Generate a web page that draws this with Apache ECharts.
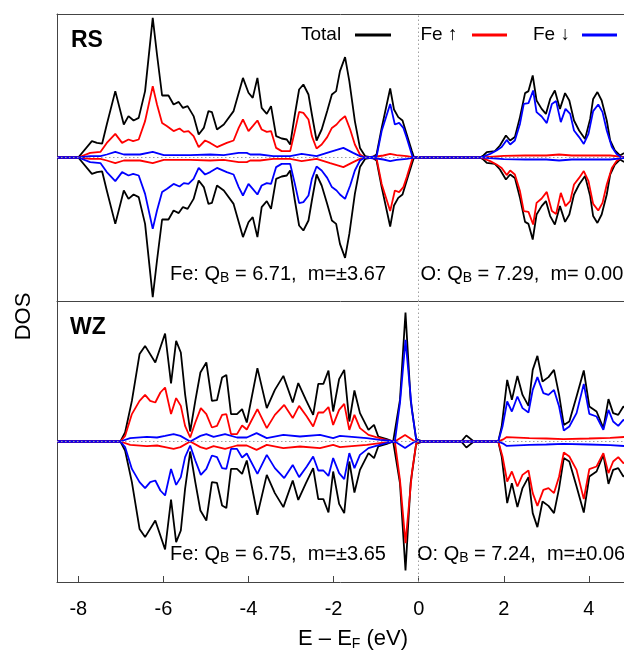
<!DOCTYPE html>
<html>
<head>
<meta charset="utf-8">
<title>Fe–O DOS, RS and WZ</title>
<script src="https://cdn.jsdelivr.net/npm/echarts@6/dist/echarts.min.js"></script>
<style>
  html, body { margin: 0; padding: 0; background: #fff; }
  #chart { width: 624px; height: 651px; }
</style>
</head>
<body>
<div id="chart"></div>
<script>
// Energy axis ticks (eV, relative to the Fermi level)
const energyTicks = [-8, -6, -4, -2, 0, 2, 4];

// ---- Rock-salt (RS) phase: spin-up channel, [E - EF (eV), DOS] ----
// Total DOS (the antiferromagnetic cell is spin-symmetric, spin-down = -spin-up)
const rsTotal = [
  [-8.5,0],[-8.0,0],[-7.68,0.82],[-7.56,0.73],[-7.44,0.69],[-7.33,1.65],[-7.13,3.32],[-6.93,1.65],
  [-6.82,2.07],[-6.70,1.85],[-6.58,1.98],[-6.43,3.32],[-6.25,6.98],[-6.15,5.15],[-6.03,3.10],[-5.88,3.10],
  [-5.76,2.65],[-5.64,2.78],[-5.54,2.48],[-5.43,2.57],[-5.29,2.07],[-5.17,1.15],[-5.05,1.48],[-4.94,2.32],
  [-4.86,2.27],[-4.74,1.40],[-4.58,1.65],[-4.35,2.32],[-4.13,3.98],[-4.00,3.24],[-3.90,2.98],[-3.79,3.98],
  [-3.69,2.48],[-3.57,2.18],[-3.47,2.57],[-3.35,1.07],[-3.22,0.95],[-3.10,0.90],[-3.02,0.65],[-2.91,2.15],
  [-2.81,3.40],[-2.71,3.65],[-2.59,3.15],[-2.51,2.15],[-2.40,0.85],[-2.28,1.40],[-2.15,2.32],[-2.04,3.15],
  [-1.94,3.32],[-1.85,4.32],[-1.73,5.02],[-1.63,3.82],[-1.50,1.82],[-1.38,0.48],[-1.26,0.07],[-1.10,0],
  [-0.99,0.15],[-0.87,1.48],[-0.67,3.45],[-0.58,2.40],[-0.48,2.02],[-0.38,1.85],[-0.28,1.15],[-0.16,0.32],
  [-0.11,0],[1.44,0],[1.52,0.10],[1.60,0.27],[1.79,0.32],[1.91,0.60],[2.05,1.10],[2.15,0.85],[2.26,1.02],
  [2.38,2.02],[2.50,3.22],[2.58,3.32],[2.68,4.10],[2.77,2.85],[2.89,2.43],[2.99,2.18],[3.09,2.93],[3.20,3.35],
  [3.32,2.43],[3.44,3.22],[3.54,2.85],[3.65,1.85],[3.77,1.35],[3.91,0.93],[4.03,1.93],[4.10,2.93],[4.20,3.27],
  [4.30,2.85],[4.42,1.85],[4.50,0.85],[4.61,0.35],[4.73,0.10],[4.81,0.20],[5.0,0.40]
];
// Fe majority-spin projection (Fe↑ spin-up, equal to Fe↓ spin-down)
const rsFeMajority = [
  [-8.5,0],[-8.0,0],[-7.72,0.23],[-7.48,0.28],[-7.33,0.73],[-7.13,1.18],[-6.97,0.73],[-6.82,0.90],
  [-6.71,0.82],[-6.58,0.90],[-6.43,1.82],[-6.25,3.57],[-6.15,2.65],[-6.03,1.73],[-5.92,1.57],[-5.76,1.32],
  [-5.62,1.45],[-5.52,1.28],[-5.41,1.32],[-5.29,1.07],[-5.17,0.52],[-5.02,0.85],[-4.90,0.73],[-4.74,0.52],
  [-4.51,0.73],[-4.35,0.85],[-4.23,1.48],[-4.13,1.90],[-4.00,1.32],[-3.90,1.57],[-3.79,1.85],[-3.69,1.40],
  [-3.57,1.28],[-3.47,1.32],[-3.35,0.48],[-3.22,0.32],[-3.02,0.32],[-2.91,1.32],[-2.81,2.28],[-2.71,2.23],
  [-2.59,1.90],[-2.51,1.07],[-2.40,0.45],[-2.28,0.65],[-2.15,1.02],[-2.04,1.48],[-1.93,1.65],[-1.85,1.85],
  [-1.73,2.07],[-1.61,1.40],[-1.50,0.65],[-1.38,0.15],[-1.26,0],[-0.99,0.05],[-0.83,0.10],[-0.67,0.18],
  [-0.52,0.12],[-0.28,0.07],[-0.11,0],[1.50,0],[2.0,0.08],[2.5,0.10],[3.0,0.10],[3.3,0.15],[3.6,0.10],
  [4.0,0.10],[4.5,0.10],[4.8,0.03],[5.0,0.05]
];
// Fe minority-spin projection (Fe↓ spin-up, equal to Fe↑ spin-down)
const rsFeMinority = [
  [-8.5,0],[-8.0,0],[-7.72,0.07],[-7.48,0.07],[-7.33,0.15],[-7.13,0.28],[-6.93,0.15],[-6.55,0.15],
  [-6.25,0.28],[-5.99,0.12],[-5.37,0.12],[-4.90,0.15],[-4.58,0.12],[-4.23,0.23],[-4.04,0.23],[-3.96,0.15],
  [-3.73,0.15],[-3.42,0.07],[-3.02,0.07],[-2.75,0.18],[-2.40,0.07],[-2.08,0.28],[-1.77,0.48],[-1.54,0.23],
  [-1.38,0.07],[-1.26,0],[-0.99,0.05],[-0.87,1.32],[-0.67,2.68],[-0.56,1.65],[-0.46,1.73],[-0.36,1.48],
  [-0.28,0.98],[-0.14,0],[1.44,0],[1.52,0.05],[1.68,0.18],[1.83,0.35],[1.95,0.52],[2.07,0.88],[2.15,0.65],
  [2.26,0.85],[2.38,1.68],[2.47,2.68],[2.58,2.72],[2.69,3.35],[2.77,2.27],[2.89,2.05],[3.01,1.72],[3.13,2.68],
  [3.23,2.82],[3.34,1.77],[3.45,2.43],[3.56,2.18],[3.65,1.35],[3.77,1.02],[3.88,0.68],[3.99,1.18],[4.10,2.32],
  [4.22,2.65],[4.32,2.27],[4.42,1.35],[4.54,0.52],[4.65,0.18],[4.77,0],[5.0,0]
];

// ---- Wurtzite (WZ) phase ----
const wzTotal = [
  [-8.5,0],[-7.01,0],[-6.90,0.45],[-6.74,2.03],[-6.56,4.37],[-6.43,4.78],[-6.19,3.95],[-5.96,5.40],
  [-5.82,2.90],[-5.70,5.03],[-5.59,4.45],[-5.49,2.37],[-5.37,0.50],[-5.25,2.03],[-5.13,3.45],[-4.99,3.95],
  [-4.86,2.03],[-4.74,2.07],[-4.62,3.20],[-4.52,3.33],[-4.41,1.37],[-4.27,1.37],[-4.15,1.62],[-4.04,0.95],
  [-3.79,3.67],[-3.57,1.67],[-3.38,2.58],[-3.18,3.28],[-2.96,1.95],[-2.83,2.92],[-2.65,2.08],[-2.48,1.33],
  [-2.36,2.88],[-2.24,2.88],[-2.12,3.55],[-2.01,1.50],[-1.87,3.12],[-1.75,3.58],[-1.63,1.00],[-1.51,2.55],
  [-1.38,1.42],[-1.18,0.58],[-1.05,0.83],[-0.95,0.25],[-0.75,0.12],[-0.60,0],[-0.44,2.08],[-0.31,6.45],
  [-0.19,2.08],[-0.06,0.12],[0.10,0],[1.00,0],[1.12,0.30],[1.28,0.03],[1.45,0],[1.87,0],[1.95,0.75],
  [2.08,3.08],[2.19,2.08],[2.32,3.28],[2.44,2.33],[2.58,1.78],[2.68,3.58],[2.79,4.28],[2.91,3.00],[3.05,3.22],
  [3.18,3.58],[3.30,2.33],[3.41,0.83],[3.54,1.00],[3.71,2.25],[3.88,3.55],[4.01,1.75],[4.18,1.50],[4.34,0.67],
  [4.46,2.12],[4.57,1.42],[4.69,1.33],[4.81,1.75],[5.0,1.50]
];
const wzFeMajority = [
  [-8.5,0],[-7.01,0],[-6.90,0.28],[-6.74,1.37],[-6.56,2.03],[-6.43,2.33],[-6.31,2.03],[-6.19,1.95],
  [-6.07,2.45],[-5.96,2.70],[-5.82,1.37],[-5.70,2.17],[-5.59,1.78],[-5.49,0.78],[-5.37,0.20],[-5.25,0.95],
  [-5.12,1.67],[-4.99,1.37],[-4.86,0.70],[-4.74,0.78],[-4.62,1.33],[-4.52,1.37],[-4.41,0.37],[-4.27,0.37],
  [-4.15,0.80],[-4.04,0.60],[-3.79,1.62],[-3.57,0.67],[-3.38,1.33],[-3.16,1.83],[-2.96,1.17],[-2.81,1.78],
  [-2.63,1.25],[-2.48,0.75],[-2.36,1.45],[-2.24,1.45],[-2.12,1.72],[-2.01,0.83],[-1.87,1.58],[-1.75,1.88],
  [-1.63,0.58],[-1.51,1.33],[-1.38,0.67],[-1.18,0.33],[-1.00,0.22],[-0.83,0.12],[-0.71,0.05],[-0.56,0],
  [-0.32,0.33],[-0.09,0],[1.87,0],[2.00,0.12],[2.07,0.22],[2.60,0.17],[3.00,0.15],[3.40,0.12],[4.00,0.15],
  [4.50,0.18],[5.0,0.25]
];
const wzFeMinority = [
  [-8.5,0],[-7.01,0],[-6.78,0.17],[-6.39,0.23],[-6.15,0.20],[-5.96,0.28],[-5.76,0.37],[-5.60,0.28],
  [-5.37,0],[-5.13,0.28],[-4.99,0.37],[-4.82,0.23],[-4.55,0.37],[-4.27,0.20],[-4.04,0.20],[-3.81,0.42],
  [-3.57,0.17],[-3.18,0.33],[-2.79,0.25],[-2.32,0.33],[-2.01,0.17],[-1.85,0.28],[-1.22,0.17],[-0.91,0.08],
  [-0.75,0.05],[-0.56,0],[-0.44,1.92],[-0.31,5.08],[-0.16,1.58],[-0.06,0.12],[0.03,0],[1.87,0],[1.97,0.75],
  [2.08,2.00],[2.19,1.50],[2.32,2.25],[2.44,1.67],[2.58,1.45],[2.68,2.58],[2.79,3.22],[2.93,2.42],[3.05,2.33],
  [3.18,2.58],[3.30,1.75],[3.41,0.55],[3.54,0.75],[3.71,1.42],[3.88,2.88],[4.01,1.38],[4.18,1.25],[4.34,0.58],
  [4.46,1.58],[4.57,1.00],[4.69,0.78],[4.81,1.08],[5.0,0.90]
];

// Bader charges and moments shown in each panel
const rsFeNote = 'Fe: Q{s|B} = 6.71,  m=±3.67';
const rsONote = 'O: Q{s|B} = 7.29,  m= 0.00';
const wzFeNote = 'Fe: Q{s|B} = 6.75,  m=±3.65';
const wzONote = 'O: Q{s|B} = 7.24,  m=±0.06';

const FONT = '"Liberation Sans", Arial, Helvetica, sans-serif';
const BLACK = '#000000', RED = '#ff0000', BLUE = '#0000ff';
const FRAME = '#444444';

// spin-down channel is drawn below the axis
function spinDown(points) {
  return points.map(p => [p[0], -p[1]]);
}

function dosLine(name, data, color, gridIdx) {
  return {
    name, type: 'line', data,
    xAxisIndex: gridIdx, yAxisIndex: gridIdx,
    symbol: 'none', smooth: false, z: 3,
    lineStyle: { color, width: 1.8 },
    emphasis: { disabled: true }
  };
}

function zeroGuides(gridIdx) {
  return {
    type: 'line', data: [], xAxisIndex: gridIdx, yAxisIndex: gridIdx, z: 1,
    markLine: {
      silent: true, symbol: 'none', label: { show: false },
      lineStyle: { type: [1.5, 2.5], color: '#a0a0a0', width: 1 },
      data: [{ yAxis: 0 }, { xAxis: 0 }]
    }
  };
}

function panelSeries(gridIdx, total, majority, minority) {
  return [
    zeroGuides(gridIdx),
    dosLine('Total', total, BLACK, gridIdx),
    dosLine('Total', spinDown(total), BLACK, gridIdx),
    dosLine('Fe ↑', majority, RED, gridIdx),
    dosLine('Fe ↑', spinDown(minority), RED, gridIdx),
    dosLine('Fe ↓', minority, BLUE, gridIdx),
    dosLine('Fe ↓', spinDown(majority), BLUE, gridIdx)
  ];
}

const subRich = { s: { fontSize: 14, lineHeight: 9, verticalAlign: 'bottom', fontFamily: FONT, fill: '#000' } };

function label(x, y, text, size, extra) {
  return {
    type: 'text', x, y, silent: true,
    style: Object.assign({
      text, fontFamily: FONT, fontSize: size, fill: '#000',
      verticalAlign: 'middle', lineHeight: size + 2, rich: subRich
    }, extra || {})
  };
}

function legendKey(x1, x2, y, color) {
  return { type: 'line', silent: true, shape: { x1, y1: y, x2, y2: y }, style: { stroke: color, lineWidth: 3 } };
}

// Energy window: the plot runs off the right edge of the page
const eMin = -8.5, eMax = 4.825;
const frameLine = { show: true, onZero: false, lineStyle: { color: FRAME, width: 1 } };
const hidden = { show: false };

const option = {
  animation: false,
  backgroundColor: '#ffffff',
  grid: [
    { left: 57, right: 0, top: 14, height: 287 },
    { left: 57, right: 0, top: 301, height: 281 }
  ],
  xAxis: [
    { gridIndex: 0, type: 'value', min: eMin, max: eMax, position: 'bottom',
      axisLine: frameLine, axisTick: hidden, axisLabel: hidden, splitLine: hidden },
    { gridIndex: 1, type: 'value', min: eMin, max: eMax, position: 'bottom',
      axisLine: frameLine, splitLine: hidden,
      axisTick: { show: true, inside: true, length: 6, customValues: energyTicks, lineStyle: { color: FRAME, width: 1 } },
      axisLabel: { show: true, customValues: energyTicks, fontSize: 20, margin: 17, color: '#000', fontFamily: FONT } },
    { gridIndex: 0, type: 'value', min: eMin, max: eMax, position: 'top',
      axisLine: frameLine, axisTick: hidden, axisLabel: hidden, splitLine: hidden }
  ],
  yAxis: [
    { gridIndex: 0, type: 'value', min: -7.175, max: 7.175, position: 'left',
      axisLine: frameLine, axisTick: hidden, axisLabel: hidden, splitLine: hidden },
    { gridIndex: 1, type: 'value', min: -7.025, max: 7.025, position: 'left',
      axisLine: frameLine, axisTick: hidden, axisLabel: hidden, splitLine: hidden }
  ],
  series: [].concat(
    panelSeries(0, rsTotal, rsFeMajority, rsFeMinority),
    panelSeries(1, wzTotal, wzFeMajority, wzFeMinority)
  ),
  graphic: [
    label(71, 40.5, 'RS', 23, { fontWeight: 'bold' }),
    label(70, 327.5, 'WZ', 23, { fontWeight: 'bold' }),
    label(301, 35, 'Total', 19),
    legendKey(355, 391, 35, BLACK),
    label(420.5, 35, 'Fe ↑', 19),
    legendKey(472, 507, 35, RED),
    label(533, 35, 'Fe ↓', 19),
    legendKey(582, 617, 35, BLUE),
    label(170, 274, rsFeNote, 20),
    label(420.5, 274, rsONote, 20),
    label(170, 554, wzFeNote, 20),
    label(417, 554, wzONote, 20),
    label(298, 639, 'E – E{s|F} (eV)', 22),
    label(24, 316.5, 'DOS', 22, { align: 'center' })
  ]
};
// rotate the y-axis title
option.graphic[option.graphic.length - 1].rotation = Math.PI / 2;

const chart = echarts.init(document.getElementById('chart'), null, { renderer: 'canvas', devicePixelRatio: 1 });
chart.setOption(option);
</script>
</body>
</html>
